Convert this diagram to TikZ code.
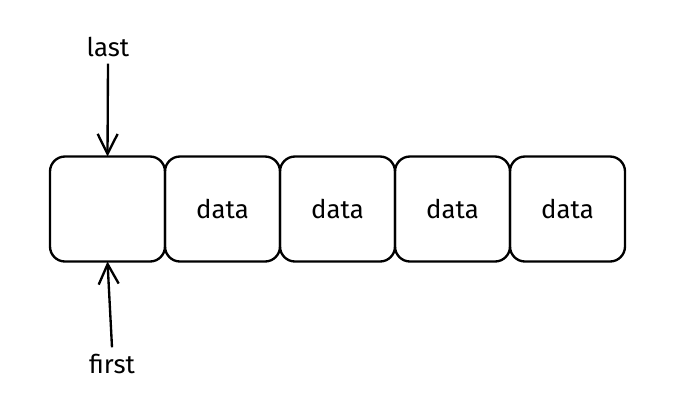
\documentclass[tikz,border=0pt]{standalone}
\usepackage{fontspec}
\setmainfont{Fira Sans}
\usetikzlibrary{arrows.meta,positioning}

\begin{document}
\begin{tikzpicture}[
    x=0.3mm,y=-0.3mm,
    node distance=0mm,
    cell/.style={draw,line width=2pt,rounded corners=4.5mm,
      minimum width=34.5mm,minimum height=31.5mm,inner sep=0pt,
      outer sep=0pt,font=\fontsize{22}{26}\selectfont},
    tag/.style={font=\fontsize{22}{26}\selectfont,inner sep=2mm},
    ptr/.style={-{Straight Barb[length=6mm,width=6mm]},line width=2pt}
  ]
    \useasboundingbox (0,0) rectangle (673,403);
    \node[cell] (head) at (107.5,209) {};
    \node[cell,right=of head] (d1) {data};
    \node[cell,right=of d1] (d2) {data};
    \node[cell,right=of d2] (d3) {data};
    \node[cell,right=of d3] (d4) {data};
    \node[tag] (last) at (108,47) {last};
    \node[tag] (first) at (112,364) {first};
    \draw[ptr] (last.south) -- (head.north);
    \draw[ptr] (first.north) -- (head.south);
  \end{tikzpicture}
\end{document}
